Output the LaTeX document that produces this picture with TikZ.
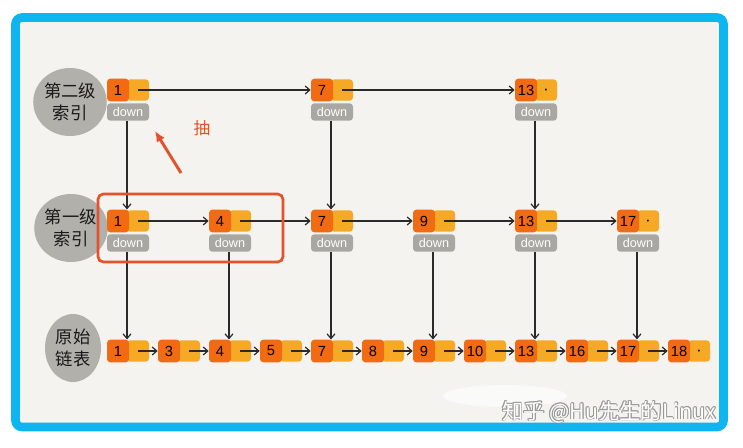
\documentclass[tikz,border=0pt]{standalone}
\usepackage{fontspec}
\newfontfamily\cjk{Noto Sans CJK SC}
\newfontfamily\hand{Liberation Sans}
\usetikzlibrary{arrows.meta,shapes.geometric}
\definecolor{dko}{HTML}{F26A12}
\definecolor{lto}{HTML}{F6A925}
\definecolor{dngray}{HTML}{A9A7A1}
\definecolor{blobgray}{HTML}{B2B0AA}
\definecolor{bgc}{HTML}{F4F3EF}
\definecolor{framec}{HTML}{0DB6F0}
\definecolor{redc}{HTML}{E4512A}
\definecolor{inkc}{HTML}{2A2A2A}
\tikzset{
  dkbox/.style={fill=dko, rounded corners=2.5pt, minimum width=16.5pt, minimum height=17pt, inner sep=0pt, font=\hand\fontsize{11}{11}\selectfont, text=black},
  ltbox/.style={fill=lto, rounded corners=2.5pt, minimum width=16.5pt, minimum height=16pt, inner sep=0pt, font=\tiny},
  dnbox/.style={fill=dngray, rounded corners=2.5pt, minimum width=31.5pt, minimum height=13pt, inner sep=0pt, text=white, font=\hand\fontsize{9.5}{9.5}\selectfont},
  arr/.style={draw=inkc, line width=0.9pt, -{Straight Barb[length=3.5pt,width=6pt]}},
  blob/.style={ellipse, fill=blobgray, inner sep=0pt, minimum width=42pt, minimum height=51pt, align=center, text=black!90, font=\cjk\fontsize{13}{16}\selectfont},
}
\newcommand\lnode[5]{%
  \node[ltbox] (#1l) at (#2+31,#3) {#5};
  \node[dkbox] (#1) at (#2+11,#3) {#4};
}
\newcommand\inode[5]{%
  \lnode{#1}{#2}{#3}{#4}{#5}
  \node[dnbox] (#1d) at (#2+21,#3+22) {down};
}
\begin{document}
\begin{tikzpicture}[x=0.75pt,y=-0.75pt]
\useasboundingbox (0,0) rectangle (743,447);
\fill[white] (0,0) rectangle (743,447);
\draw[framec, line width=6.5pt, fill=bgc, rounded corners=5pt] (15.5,17.5) rectangle (723.5,427);
\fill[white, opacity=0.6] (505,396) ellipse (62 and 11);

% blobs
\node[blob] (L2) at (70,102) {第二级\\索引};
\node[blob] (L1) at (71,228) {第一级\\索引};
\node[blob] (L0) at (73,348) {原始\\链表};

% level 2
\inode{a1}{107}{90}{1}{}
\inode{a7}{311}{90}{7}{}
\inode{a13}{515}{90}{13}{\textbullet}

% level 1
\inode{b1}{107}{221}{1}{}
\inode{b4}{209}{221}{4}{}
\inode{b7}{311}{221}{7}{}
\inode{b9}{413}{221}{9}{}
\inode{b13}{515}{221}{13}{}
\inode{b17}{617}{221}{17}{\textbullet}

% level 0
\lnode{c1}{107}{351}{1}{}
\lnode{c3}{158}{351}{3}{}
\lnode{c4}{209}{351}{4}{}
\lnode{c5}{260}{351}{5}{}
\lnode{c7}{311}{351}{7}{}
\lnode{c8}{362}{351}{8}{}
\lnode{c9}{413}{351}{9}{}
\lnode{c10}{464}{351}{10}{}
\lnode{c13}{515}{351}{13}{}
\lnode{c16}{566}{351}{16}{}
\lnode{c17}{617}{351}{17}{}
\lnode{c18}{668}{351}{18}{\textbullet}

% horizontal arrows
\draw[arr] (a1l.center) -- (a7.west);
\draw[arr] (a7l.center) -- (a13.west);
\draw[arr] (b1l.center) -- (b4.west);
\draw[arr] (b4l.center) -- (b7.west);
\draw[arr] (b7l.center) -- (b9.west);
\draw[arr] (b9l.center) -- (b13.west);
\draw[arr] (b13l.center) -- (b17.west);
\foreach \p/\q in {c1/c3,c3/c4,c4/c5,c5/c7,c7/c8,c8/c9,c9/c10,c10/c13,c13/c16,c16/c17,c17/c18}
  \draw[arr] (\p l.center) -- (\q.west);

% vertical arrows
\foreach \p/\q in {a1/b1,a7/b7,a13/b13,b1/c1,b4/c4,b7/c7,b9/c9,b13/c13,b17/c17}
  \draw[arr] ([xshift=-0.75pt]\p d.south) -- ([xshift=-0.75pt]\p d.south |- \q.north);

% red box and arrow
\draw[redc, line width=2pt, rounded corners=4pt] (98,194) rectangle (283,262);
\coordinate (rs) at (181,173);
\coordinate (re) at (155,131);
\draw[redc, line width=2.2pt, -{Latex[length=8pt,width=7pt]}] (rs) -- (re);
\node[text=redc, font=\cjk\fontsize{12.5}{12.5}\selectfont] (chou) at (202,128) {抽};

% watermark
\foreach \dx/\dy in {-0.8/0,0.8/0,0/-0.8,0/0.8,0.6/0.6,-0.6/-0.6,0.6/-0.6,-0.6/0.6}
  \node[text=black!40, font=\cjk\fontsize{16}{16}\selectfont, anchor=east] at (721+\dx,412+\dy) {知乎 @Hu先生的Linux};
\node[text=white, font=\cjk\fontsize{16}{16}\selectfont, anchor=east] (wm) at (721,412) {知乎 @Hu先生的Linux};
\end{tikzpicture}
\end{document}
